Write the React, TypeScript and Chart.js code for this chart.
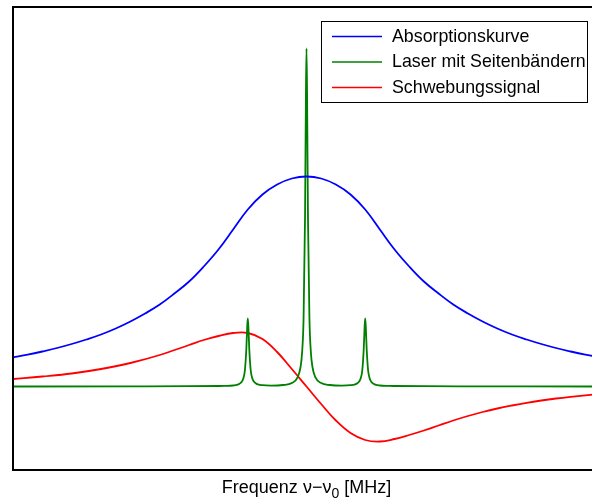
import React, { useEffect, useRef } from "react";
import { Chart, registerables } from "chart.js";

Chart.register(...registerables);

// Absorption profile (symmetric about the line centre)
const absorptionX = [
  -10, -9.5, -9, -8.5, -8, -7.5, -7, -6.5, -6, -5.5, -5, -4.5, -4, -3.5, -3, -2.5, -2, -1.5, -1, -0.5,
  0, 0.5, 1, 1.5, 2, 2.5, 3, 3.5, 4, 4.5, 5, 5.5, 6, 6.5, 7, 7.5, 8, 8.5, 9, 9.5, 10,
];
const absorptionY = [
  0.29, 0.318, 0.35, 0.385, 0.425, 0.47, 0.52, 0.58, 0.65, 0.73, 0.82, 0.93, 1.05, 1.2, 1.37, 1.57, 1.77, 1.92, 2.02, 2.08,
  2.1, 2.08, 2.02, 1.92, 1.77, 1.57, 1.37, 1.2, 1.05, 0.93, 0.82, 0.73, 0.65, 0.58, 0.52, 0.47, 0.425, 0.385, 0.35, 0.318, 0.29,
];

// Laser carrier with its two sidebands
const laserX = [
  -10, -6, -4, -3, -2.8, -2.5, -2.3, -2.2, -2.15, -2.1, -2.05, -2.02, -2, -1.98, -1.95, -1.9, -1.85, -1.8, -1.7, -1.5,
  -1.2, -0.8, -0.5, -0.3, -0.2, -0.15, -0.1, -0.05, -0.02, 0,
  0.02, 0.05, 0.1, 0.15, 0.2, 0.3, 0.5, 0.8, 1.2, 1.5, 1.7, 1.8, 1.85, 1.9, 1.95, 1.98, 2, 2.02, 2.05, 2.1,
  2.15, 2.2, 2.3, 2.5, 2.8, 3, 4, 6, 10,
];
const laserY = [
  0, 0.002, 0.003, 0.005, 0.006, 0.01, 0.024, 0.05, 0.083, 0.16, 0.375, 0.6, 0.68, 0.6, 0.375, 0.16, 0.085, 0.052, 0.026, 0.013,
  0.009, 0.015, 0.034, 0.093, 0.2, 0.34, 0.68, 1.69, 2.91, 3.38,
  2.91, 1.69, 0.68, 0.34, 0.2, 0.093, 0.034, 0.015, 0.009, 0.013, 0.026, 0.052, 0.085, 0.16, 0.375, 0.6, 0.68, 0.6, 0.375, 0.16,
  0.083, 0.05, 0.024, 0.01, 0.006, 0.005, 0.003, 0.002, 0,
];

// Beat signal (dispersion-shaped)
const beatX = [
  -10, -9, -8, -7, -6, -5, -4, -3.5, -3, -2.5, -2, -1.5, -1, -0.5,
  0, 0.5, 1, 1.5, 2, 2.5, 3, 3.5, 4, 4.5, 5, 5.5, 6, 6.5, 7, 7.5, 8, 8.5, 9, 9.5, 10,
];
const beatY = [
  0.075, 0.1, 0.13, 0.175, 0.235, 0.315, 0.415, 0.465, 0.505, 0.535, 0.535, 0.475, 0.345, 0.175,
  0, -0.175, -0.34, -0.465, -0.535, -0.55, -0.525, -0.485, -0.44, -0.39, -0.34, -0.295, -0.255, -0.22, -0.19, -0.163, -0.14, -0.12, -0.103, -0.088, -0.075,
];

const seriesLabels = ["Absorptionskurve", "Laser mit Seitenbändern", "Schwebungssignal"];
const seriesColors = ["#0000ff", "#008000", "#ff0000"];

const FONT = '"Liberation Sans", Arial, Helvetica, sans-serif';

const toPoints = (xs: number[], ys: number[]) => xs.map((x, i) => ({ x, y: ys[i] }));

// Axes frame (left, top, bottom), boxed legend and subscripted x-axis title
const decorations = {
  id: "decorations",
  afterDraw(chart: any) {
    const { ctx, chartArea } = chart;
    const { left, top, right, bottom } = chartArea;
    ctx.save();

    // frame
    ctx.strokeStyle = "#000";
    ctx.lineWidth = 2;
    ctx.beginPath();
    ctx.moveTo(left, top);
    ctx.lineTo(right + 2, top);
    ctx.moveTo(left, top - 1);
    ctx.lineTo(left, bottom + 1);
    ctx.moveTo(left, bottom);
    ctx.lineTo(right + 2, bottom);
    ctx.stroke();

    // legend box
    const bx = 321.5, by = 21.5, bw = 266, bh = 81;
    ctx.fillStyle = "#fff";
    ctx.fillRect(bx, by, bw, bh);
    ctx.lineWidth = 1;
    ctx.strokeStyle = "#000";
    ctx.strokeRect(bx, by, bw, bh);

    ctx.font = `17.8px ${FONT}`;
    ctx.textBaseline = "middle";
    ctx.textAlign = "left";
    chart.data.datasets.forEach((ds: any, i: number) => {
      const yy = 36.5 + i * 25.5;
      ctx.strokeStyle = ds.borderColor;
      ctx.lineWidth = 1.5;
      ctx.beginPath();
      ctx.moveTo(332, yy);
      ctx.lineTo(382, yy);
      ctx.stroke();
      ctx.fillStyle = "#000";
      ctx.fillText(ds.label, 392, yy + 0.5);
    });

    // x-axis title: Frequenz ν−ν0 [MHz] with subscript 0
    const main1 = "Frequenz \u03bd\u2212\u03bd";
    const sub = "0";
    const main2 = " [MHz]";
    ctx.textBaseline = "alphabetic";
    ctx.font = `18px ${FONT}`;
    const w1 = ctx.measureText(main1).width;
    const w3 = ctx.measureText(main2).width;
    ctx.font = `14px ${FONT}`;
    const w2 = ctx.measureText(sub).width;
    const total = w1 + w2 + w3;
    let x = 306.5 - total / 2;
    const base = 493;
    ctx.fillStyle = "#000";
    ctx.font = `18px ${FONT}`;
    ctx.fillText(main1, x, base);
    x += w1;
    ctx.font = `14px ${FONT}`;
    ctx.fillText(sub, x, base + 5);
    x += w2;
    ctx.font = `18px ${FONT}`;
    ctx.fillText(main2, x, base);

    ctx.restore();
  },
};

export default function App() {
  const canvasRef = useRef<HTMLCanvasElement | null>(null);

  useEffect(() => {
    const canvas = canvasRef.current;
    if (!canvas) return;
    const line = (i: number, xs: number[], ys: number[], smooth: boolean) => ({
      label: seriesLabels[i],
      data: toPoints(xs, ys),
      borderColor: seriesColors[i],
      backgroundColor: seriesColors[i],
      borderWidth: 1.8,
      pointRadius: 0,
      fill: false,
      tension: smooth ? 0.4 : 0,
      cubicInterpolationMode: smooth ? ("default" as const) : ("monotone" as const),
    });
    const chart = new Chart(canvas, {
      type: "line",
      data: {
        datasets: [
          line(0, absorptionX, absorptionY, true),
          line(1, laserX, laserY, false),
          line(2, beatX, beatY, true),
        ],
      },
      options: {
        responsive: false,
        animation: false,
        devicePixelRatio: 1,
        layout: { padding: { left: 13, top: 7, right: 0, bottom: 32 } },
        plugins: { legend: { display: false }, tooltip: { enabled: false } },
        scales: {
          x: { type: "linear", min: -10, max: 10, display: false },
          y: { type: "linear", min: -0.835, max: 3.795, display: false },
        },
      },
      plugins: [decorations],
    });
    return () => chart.destroy();
  }, []);

  return (
    <div style={{ position: "fixed", left: 0, top: 0, width: 592, height: 502, overflow: "hidden", background: "#fff" }}>
      <canvas ref={canvasRef} width={600} height={502} style={{ display: "block", width: 600, height: 502 }} />
    </div>
  );
}
